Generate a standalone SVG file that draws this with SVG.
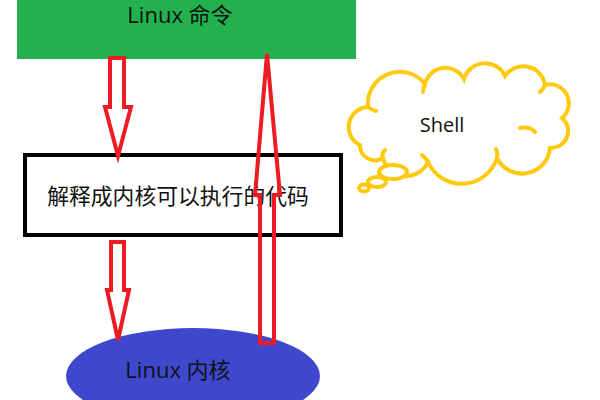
<svg xmlns="http://www.w3.org/2000/svg" width="600" height="400" viewBox="0 0 600 400">
<style>
.t{font-family:"Open Sans","Noto Sans CJK SC",sans-serif;fill:#111}
.arr{fill:none;stroke:#ed1c24;stroke-width:4;stroke-linejoin:miter}
.cloud{fill:#fff;stroke:#ffc90e;stroke-width:4;stroke-linecap:round}
</style>
<rect width="600" height="400" fill="#fff"/>
<g id="cmd">
<rect x="17" y="0" width="339" height="59" fill="#22b14c"/>
<text class="t" x="180" y="23" font-size="22" text-anchor="middle">Linux 命令</text>
</g>
<g id="interp">
<rect x="25" y="155" width="316" height="80" fill="#fff" stroke="#000" stroke-width="4"/>
<text class="t" x="178" y="204" font-size="21.8" text-anchor="middle">解释成内核可以执行的代码</text>
</g>
<g id="kernel">
<ellipse cx="193" cy="376" rx="127" ry="48" fill="#3f48cc"/>
<text class="t" x="178" y="378" font-size="22" text-anchor="middle">Linux 内核</text>
</g>
<g id="shell">
<path class="cloud" d="M360,145 A20,20 0 0 1 368,107 A32,32 0 0 1 425,84 A21,21 0 0 1 464,79 A22,22 0 0 1 505,76 A22,22 0 0 1 545,85 A19,19 0 0 1 562,118 A17,17 0 0 1 550,148 A28,28 0 0 1 497,158 A37,37 0 0 1 428,162 A24,24 0 0 1 383,158 A15,15 0 0 1 360,145 Z"/>
<path class="cloud" fill="none" d="M368,107 q4,3 8,4 M425,84 q-2,4 -2,8 M545,85 q-2,5 -5,7 M520,128 q10,-2 15,4 M497,158 q1,-5 -1,-9 M428,162 q-3,-5 -6,-7 M383,158 q-2,-4 2,-8"/>
<ellipse class="cloud" cx="393" cy="172" rx="14" ry="7"/>
<ellipse class="cloud" cx="377" cy="182" rx="9" ry="5"/>
<ellipse class="cloud" cx="364" cy="188" rx="5" ry="3.5"/>
<text class="t" x="442" y="132" font-size="20" text-anchor="middle">Shell</text>
</g>
<g id="connectors">
<polygon class="arr" points="110,58 124,58 124,107 131,107 118,156 105,107 110,107"/>
<polygon class="arr" points="111,242 124,242 124,290 129,290 118,340 107,290 111,290"/>
<polygon class="arr" points="260,343 274,343 274,195 280,195 267,54 255,195 260,195"/>
</g>
</svg>
